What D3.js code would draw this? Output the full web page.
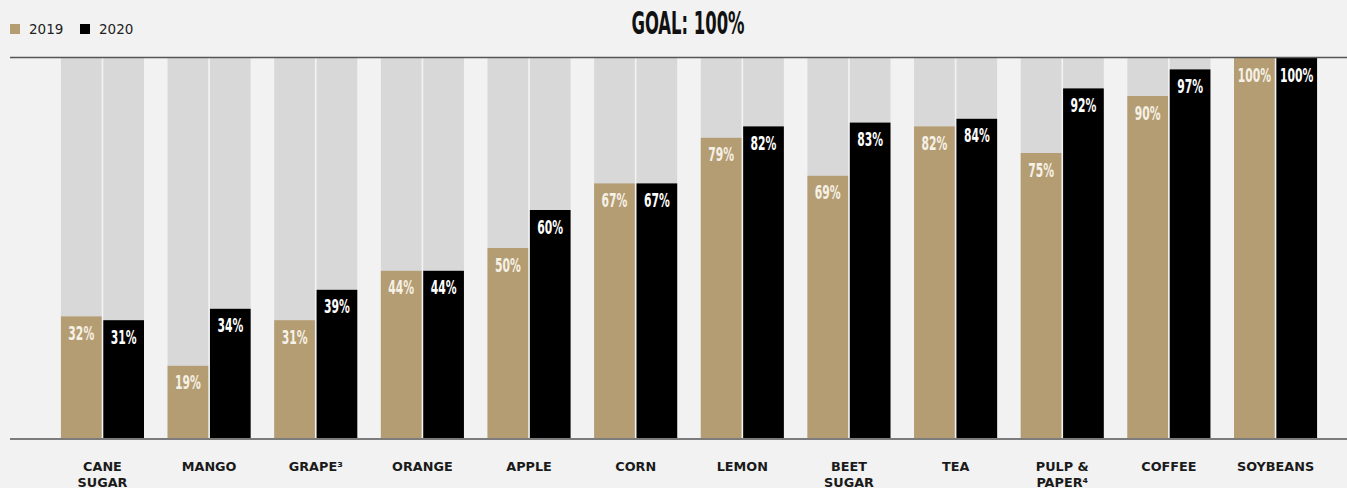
<!DOCTYPE html>
<html>
<head>
<meta charset="utf-8">
<script src="https://cdn.jsdelivr.net/npm/d3@7"></script>
<style>
  html, body { margin: 0; padding: 0; background: #f2f2f2; }
  svg { display: block; }
</style>
</head>
<body>
<svg id="chart" width="1347" height="488"></svg>
<script>
const categories = ["CANE SUGAR", "MANGO", "GRAPE³", "ORANGE", "APPLE", "CORN", "LEMON", "BEET SUGAR", "TEA", "PULP & PAPER⁴", "COFFEE", "SOYBEANS"];
const categoryLines = [["CANE", "SUGAR"], ["MANGO"], ["GRAPE³"], ["ORANGE"], ["APPLE"], ["CORN"], ["LEMON"], ["BEET", "SUGAR"], ["TEA"], ["PULP &", "PAPER⁴"], ["COFFEE"], ["SOYBEANS"]];
const seriesNames = ["2019", "2020"];
const values2019 = [32, 19, 31, 44, 50, 67, 79, 69, 82, 75, 90, 100];
const values2020 = [31, 34, 39, 44, 60, 67, 82, 83, 84, 92, 97, 100];
const goal = 100;
const titleText = "GOAL: 100%";

const colors = { "2019": "#b49d73", "2020": "#000000" };

(function () {
const svg = d3.select("#chart");
const W = 1347;
const plotTop = 58, plotBottom = 438;
const condFont = "'DejaVu Sans Condensed', 'DejaVu Sans', sans-serif";

const x0 = d3.scaleBand().domain(categories).range([49.2, 1328.8]).paddingInner(0.221).paddingOuter(0.11);
const x1 = d3.scaleBand().domain(seriesNames).range([0, x0.bandwidth()]).paddingInner(0.04);
const y = d3.scaleLinear().domain([0, goal]).range([plotBottom, plotTop]);

const data = categories.map((c, i) => ({ cat: c, vals: [{ s: "2019", v: values2019[i] }, { s: "2020", v: values2020[i] }] }));

const groups = svg.append("g").selectAll("g").data(data).join("g")
  .attr("transform", d => `translate(${x0(d.cat)},0)`);

groups.selectAll("rect.bg").data(d => d.vals).join("rect").attr("class", "bg")
  .attr("x", d => x1(d.s)).attr("width", x1.bandwidth())
  .attr("y", y(goal)).attr("height", y(0) - y(goal))
  .attr("fill", "#d8d8d8");

groups.selectAll("rect.val").data(d => d.vals).join("rect").attr("class", "val")
  .attr("x", d => x1(d.s)).attr("width", x1.bandwidth())
  .attr("y", d => y(d.v)).attr("height", d => y(0) - y(d.v))
  .attr("fill", d => colors[d.s]);

groups.selectAll("text.lbl").data(d => d.vals).join("text").attr("class", "lbl")
  .attr("transform", d => `translate(${x1(d.s) + x1.bandwidth() / 2},${y(d.v) + 23.5}) scale(0.6,1)`)
  .attr("text-anchor", "middle")
  .attr("font-family", condFont)
  .attr("font-weight", "bold")
  .attr("font-size", 20)
  .attr("fill", d => d.s === "2019" ? "#f6f1e6" : "#ffffff")
  .text(d => d.v + "%");

svg.append("line").attr("x1", 10).attr("x2", W).attr("y1", 57.5).attr("y2", 57.5)
  .attr("stroke", "#555").attr("stroke-width", 1.5);

const xAxis = svg.append("g").attr("transform", `translate(0,${plotBottom})`)
  .call(d3.axisBottom(x0).tickSize(0).tickPadding(0));
xAxis.select(".domain").remove();
svg.append("line").attr("x1", 10).attr("x2", W).attr("y1", 439).attr("y2", 439)
  .attr("stroke", "#555").attr("stroke-width", 1.5);
xAxis.selectAll(".tick text").each(function (d) {
  const i = categories.indexOf(d);
  const t = d3.select(this).text(null)
    .attr("y", 0).attr("dy", null)
    .attr("font-family", "'DejaVu Sans', sans-serif")
    .attr("font-weight", "bold")
    .attr("font-size", 12.8)
    .attr("fill", "#1a1a1a");
  categoryLines[i].forEach((ln, j) => {
    t.append("tspan").attr("x", 0).attr("y", 33 + j * 16).text(ln);
  });
});

svg.append("text")
  .attr("transform", `translate(688,34) scale(0.58,1)`)
  .attr("text-anchor", "middle")
  .attr("font-family", condFont)
  .attr("font-weight", "bold")
  .attr("font-size", 31.5)
  .attr("fill", "#111")
  .text(titleText);

const legend = svg.append("g");
const legX = [10, 80];
seriesNames.forEach((s, i) => {
  legend.append("rect").attr("x", legX[i]).attr("y", 24).attr("width", 10).attr("height", 10).attr("fill", colors[s]);
  legend.append("text").attr("x", legX[i] + 19).attr("y", 34)
    .attr("font-family", "'DejaVu Sans', sans-serif").attr("font-size", 13.5)
    .attr("fill", "#222").text(s);
});
})();
</script>
</body>
</html>
